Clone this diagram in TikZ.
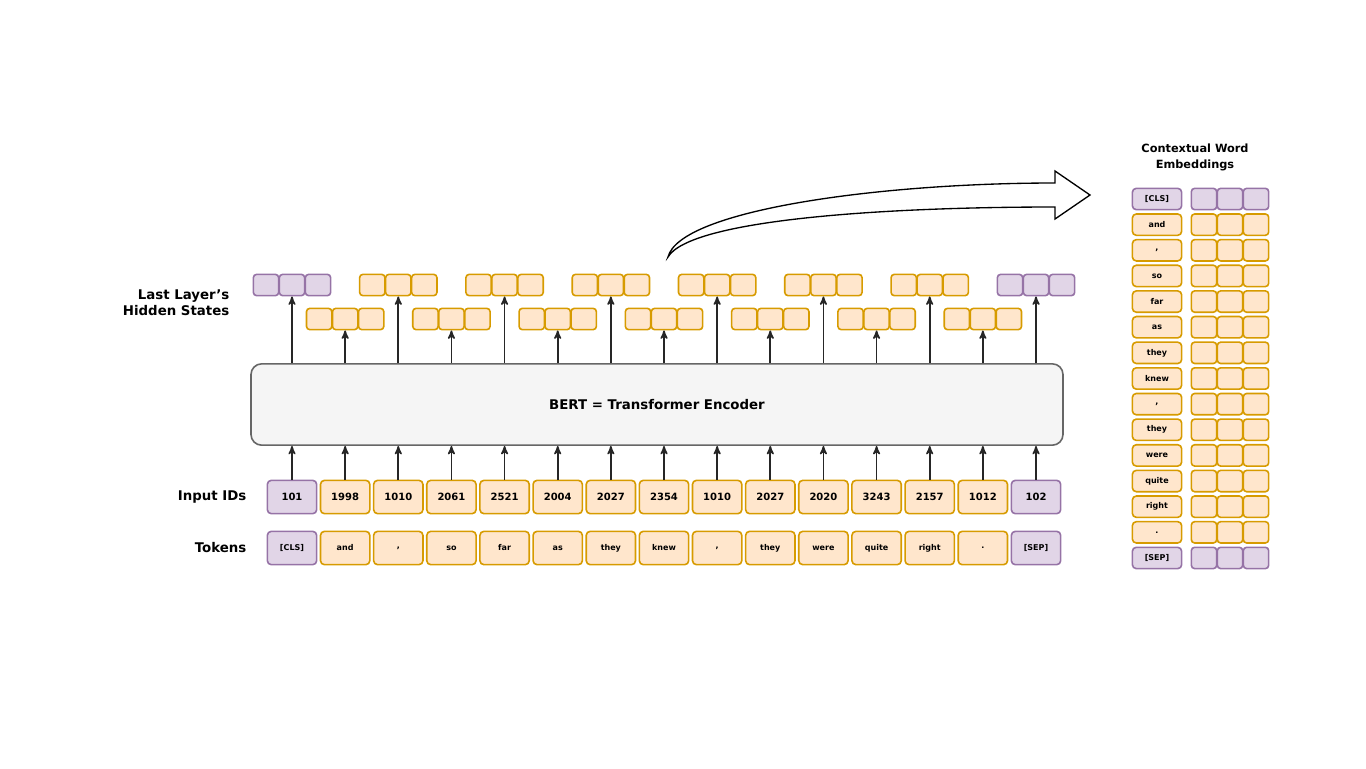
\documentclass[tikz,border=0pt]{standalone}
\usepackage{fontspec}
\setmainfont{DejaVu Sans}
\usetikzlibrary{arrows, positioning, calc}
\definecolor{my_orange}{HTML}{FFE6CC}
\definecolor{my_orange_line}{HTML}{D79B00}
\definecolor{my_purple}{HTML}{E1D5E7}
\definecolor{my_purple_line}{HTML}{9673A6}
\definecolor{my_gray}{HTML}{F5F5F5}
\tikzset {
  org/.style = {draw=my_orange_line, fill=my_orange},
  pur/.style = {draw=my_purple_line, fill=my_purple},
  box/.style = {line width=1.2pt, rounded corners=3pt, rectangle, minimum width=37pt, minimum height=25pt, inner sep=0pt, font=\bfseries\fontsize{7.5}{9}\selectfont},
  tokbox/.style = {box, font=\bfseries\fontsize{6}{8}\selectfont},
  cell/.style = {line width=1.2pt, rounded corners=2.5pt, rectangle, minimum width=19pt, minimum height=16pt, inner sep=0pt},
  label/.style = {box, minimum height=16pt, font=\bfseries\fontsize{6}{8}\selectfont},
  bert/.style = {draw=gray!120, fill=my_gray, line width=1.2pt, rounded corners=8pt, minimum width=609pt, minimum height=61pt, font=\bfseries\fontsize{10}{12}\selectfont},
  line/.style = {->, line width=1.2pt, color=black!85, >=stealth'},
  title/.style = {font=\bfseries\fontsize{10}{12}\selectfont, align=right, anchor=east}
}
\begin{document}
\begin{tikzpicture}[x=0.75pt, y=-0.75pt]
    \useasboundingbox (0,0) rectangle (1366,768);

    \node[bert] (bert) at (657,404.5) {BERT = Transformer Encoder};

    \foreach \id/\tok [count=\n from 0] in {101/[CLS], 1998/and, 1010/{,}, 2061/so, 2521/far, 2004/as, 2027/they, 2354/knew, 1010/{,}, 2027/they, 2020/were, 3243/quite, 2157/right, 1012/., 102/[SEP]} {
      \ifnum\n=0 \def\st{pur}\else\ifnum\n=14 \def\st{pur}\else\def\st{org}\fi\fi
      \pgfmathsetmacro\cx{292+53.143*\n}
      \pgfmathsetmacro\hy{mod(\n,2)==0 ? 285 : 319}
      % input ids and tokens
      \node[box, \st] (id\n) at (\cx,497) {\id};
      \node[tokbox, \st] (tok\n) at (\cx,548) {\tok};
      % hidden state
      \node[cell, \st] (hs\n) at (\cx,\hy) {};
      \node[cell, \st] (hsl\n) at (\cx-26,\hy) {};
      \node[cell, \st] (hsr\n) at (\cx+26,\hy) {};
      \draw[line] (id\n.north) -- (id\n.north |- bert.south);
      \draw[line] (hs\n.south |- bert.north) -- (hs\n.south);
      % contextual embeddings
      \pgfmathsetmacro\ry{199+25.64*\n}
      \node[label, \st] (emb\n) at (1157,\ry) {\tok};
      \foreach \k in {0,1,2}
        \node[cell, \st] (embc\n\k) at (1204+26*\k,\ry) {};
    }

    \node[title] (lhs) at (234,303) {Last Layer's\\Hidden States};
    \node[title] (ids) at (251,497) {Input IDs};
    \node[title] (toks) at (251,548) {Tokens};
    \node[font=\bfseries\fontsize{8.5}{12}\selectfont, align=center] (ctx) at (1195,157) {Contextual Word\\Embeddings};

    \draw[line width=1pt, fill=white] (668,257) .. controls (680,210) and (880,183) .. (1055,183) -- (1055,171) -- (1090,195) -- (1055,219) -- (1055,207) .. controls (880,207) and (690,220) .. cycle;

\end{tikzpicture}
\end{document}
